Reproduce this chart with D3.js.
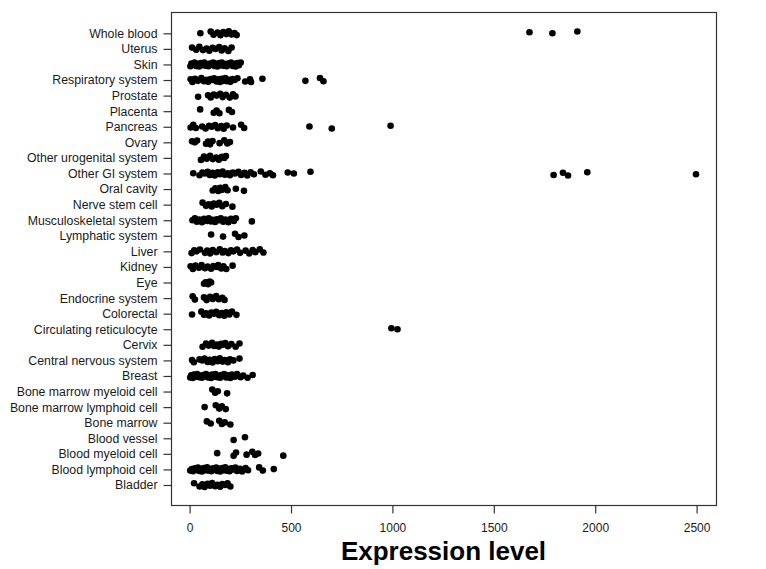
<!DOCTYPE html>
<html>
<head>
<meta charset="utf-8">
<script src="https://cdn.jsdelivr.net/npm/d3@7/dist/d3.min.js"></script>
<style>
  html, body { margin: 0; padding: 0; background: #fff; }
  svg { display: block; }
  text { font-family: "Liberation Sans", Arial, Helvetica, sans-serif; }
</style>
</head>
<body>
<svg id="chart" width="766" height="569"></svg>
<script>
// Tissue groups, listed top to bottom
const categories = [
  "Whole blood", "Uterus", "Skin", "Respiratory system", "Prostate", "Placenta",
  "Pancreas", "Ovary", "Other urogenital system", "Other GI system", "Oral cavity",
  "Nerve stem cell", "Musculoskeletal system", "Lymphatic system", "Liver", "Kidney",
  "Eye", "Endocrine system", "Colorectal", "Circulating reticulocyte", "Cervix",
  "Central nervous system", "Breast", "Bone marrow myeloid cell",
  "Bone marrow lymphoid cell", "Bone marrow", "Blood vessel", "Blood myeloid cell",
  "Blood lymphoid cell", "Bladder"
];

// Expression level of each sample, per tissue group
const wholeBlood = [53, 104, 118, 137, 152, 166, 181, 193, 207, 221, 232, 1676, 1789, 1912];
const uterus = [12, 33, 48, 66, 84, 97, 113, 128, 146, 158, 173, 191, 207];
const skin = [4, 9, 17, 24, 33, 41, 47, 56, 61, 72, 79, 86, 93, 101, 107, 116, 123, 131,
  137, 146, 153, 159, 167, 176, 183, 189, 199, 204, 213, 221, 227, 236, 243, 252];
const respiratory = [5, 14, 27, 41, 58, 71, 83, 92, 104, 113, 121, 133, 141, 150, 158,
  167, 176, 184, 193, 201, 212, 222, 236, 274, 298, 303, 359, 571, 643, 660];
const prostate = [42, 91, 104, 119, 133, 151, 163, 179, 198, 214, 226];
const placenta = [52, 119, 133, 147, 194, 209];
const pancreas = [5, 18, 31, 62, 79, 96, 109, 126, 139, 156, 168, 183, 214, 254, 269, 591, 701, 991];
const ovary = [12, 26, 37, 81, 91, 101, 113, 148, 171, 186, 199];
const otherUrogenital = [56, 71, 84, 101, 114, 131, 144, 159, 171, 179];
const otherGI = [18, 49, 63, 74, 89, 99, 113, 124, 139, 149, 163, 174, 189, 199, 213, 224,
  241, 254, 271, 284, 301, 317, 351, 374, 396, 411, 484, 514, 596,
  1795, 1841, 1866, 1961, 2497];
const oralCavity = [114, 127, 141, 151, 161, 176, 187, 228, 268];
const nerveStemCell = [64, 81, 94, 109, 119, 133, 146, 161, 179, 211];
const musculoskeletal = [14, 26, 36, 47, 61, 71, 86, 94, 106, 114, 126, 134, 146, 154,
  166, 177, 191, 204, 218, 228, 307];
const lymphatic = [106, 165, 224, 241, 270];
const liver = [10, 23, 34, 51, 76, 87, 101, 114, 131, 149, 163, 174, 191, 204, 216, 234,
  249, 276, 294, 311, 324, 346, 364];
const kidney = [5, 16, 29, 46, 59, 76, 89, 106, 117, 131, 141, 156, 167, 181, 212];
const eye = [71, 79, 91, 99, 106];
const endocrine = [15, 26, 71, 84, 101, 114, 131, 144, 161, 172];
const colorectal = [12, 58, 71, 81, 96, 107, 121, 131, 146, 157, 171, 181, 196, 209, 231];
const circulatingReticulocyte = [995, 1025];
const cervix = [64, 81, 94, 111, 121, 136, 144, 156, 164, 176, 189, 206, 227, 246];
const centralNervous = [12, 21, 49, 63, 74, 89, 99, 113, 124, 139, 149, 163, 174, 189,
  199, 216, 246];
const breast = [3, 8, 16, 21, 31, 37, 46, 51, 61, 67, 76, 81, 91, 97, 106, 111, 121, 127,
  136, 141, 151, 157, 166, 171, 181, 189, 201, 209, 223, 234, 251, 264, 286, 311];
const boneMarrowMyeloid = [112, 126, 139, 185];
const boneMarrowLymphoid = [74, 129, 146, 159, 178];
const boneMarrow = [85, 104, 146, 159, 173, 201];
const bloodVessel = [217, 273];
const bloodMyeloid = [136, 217, 229, 281, 309, 323, 338, 462];
const bloodLymphoid = [3, 11, 17, 26, 31, 41, 47, 56, 61, 71, 77, 86, 91, 101, 107, 116,
  121, 131, 137, 146, 151, 161, 167, 176, 181, 191, 197, 206, 214, 226, 234, 249, 259,
  276, 288, 343, 361, 415];
const bladder = [22, 49, 63, 74, 89, 101, 111, 126, 137, 151, 161, 176, 187, 201];

const seriesValues = [
  wholeBlood, uterus, skin, respiratory, prostate, placenta, pancreas, ovary,
  otherUrogenital, otherGI, oralCavity, nerveStemCell, musculoskeletal, lymphatic,
  liver, kidney, eye, endocrine, colorectal, circulatingReticulocyte, cervix,
  centralNervous, breast, boneMarrowMyeloid, boneMarrowLymphoid, boneMarrow,
  bloodVessel, bloodMyeloid, bloodLymphoid, bladder
];

const xTicks = [0, 500, 1000, 1500, 2000, 2500];

// Small fixed vertical offsets so overlapping samples stay visible
const jitterPattern = [0, -1.8, 1.5, -0.7, 2.0, -1.3, 0.8, -2.0, 1.2, -0.3, 1.8, -1.0];

// Layout
const box = { left: 171, right: 716, top: 12, bottom: 505 };

const svg = d3.select("#chart");

const x = d3.scaleLinear().domain([0, 2500]).range([189.6, 696.6]);
const y = d3.scalePoint().domain(categories).range([33.3, 485]);

const points = [];
seriesValues.forEach((vals, ci) => {
  vals.forEach((v, i) => points.push({ cat: categories[ci], v, j: jitterPattern[(i + ci * 5) % jitterPattern.length] }));
});

// Points
svg.append("g")
  .selectAll("circle")
  .data(points)
  .join("circle")
  .attr("cx", d => x(d.v))
  .attr("cy", d => y(d.cat) + d.j)
  .attr("r", 3.3)
  .attr("fill", "#000");

// Frame
svg.append("rect")
  .attr("x", box.left + 0.5)
  .attr("y", box.top + 0.5)
  .attr("width", box.right - box.left)
  .attr("height", box.bottom - box.top)
  .attr("fill", "none")
  .attr("stroke", "#333")
  .attr("stroke-width", 1.2);

// Y axis
const yAxis = d3.axisLeft(y).tickSize(8).tickPadding(6);
const gy = svg.append("g")
  .attr("transform", `translate(${box.left + 0.5},0)`)
  .call(yAxis);
gy.select(".domain").remove();
gy.selectAll(".tick line").attr("stroke", "#333").attr("stroke-width", 1.2);
gy.selectAll(".tick text")
  .attr("fill", "#1a1a1a")
  .style("font-size", "12.3px")
  .style("font-family", "'Liberation Sans', Arial, Helvetica, sans-serif");

// X axis
const xAxis = d3.axisBottom(x).tickValues(xTicks).tickFormat(d3.format("d")).tickSize(8).tickPadding(10);
const gx = svg.append("g")
  .attr("transform", `translate(0,${box.bottom + 0.5})`)
  .call(xAxis);
gx.select(".domain").remove();
gx.selectAll(".tick line").attr("stroke", "#333").attr("stroke-width", 1.2);
gx.selectAll(".tick text")
  .attr("fill", "#1a1a1a")
  .style("font-size", "12px")
  .style("font-family", "'Liberation Sans', Arial, Helvetica, sans-serif");

// Axis title
svg.append("text")
  .attr("x", (box.left + box.right) / 2)
  .attr("y", 560)
  .attr("text-anchor", "middle")
  .style("font-size", "26px")
  .style("font-weight", "bold")
  .attr("fill", "#000")
  .text("Expression level");
</script>
</body>
</html>
